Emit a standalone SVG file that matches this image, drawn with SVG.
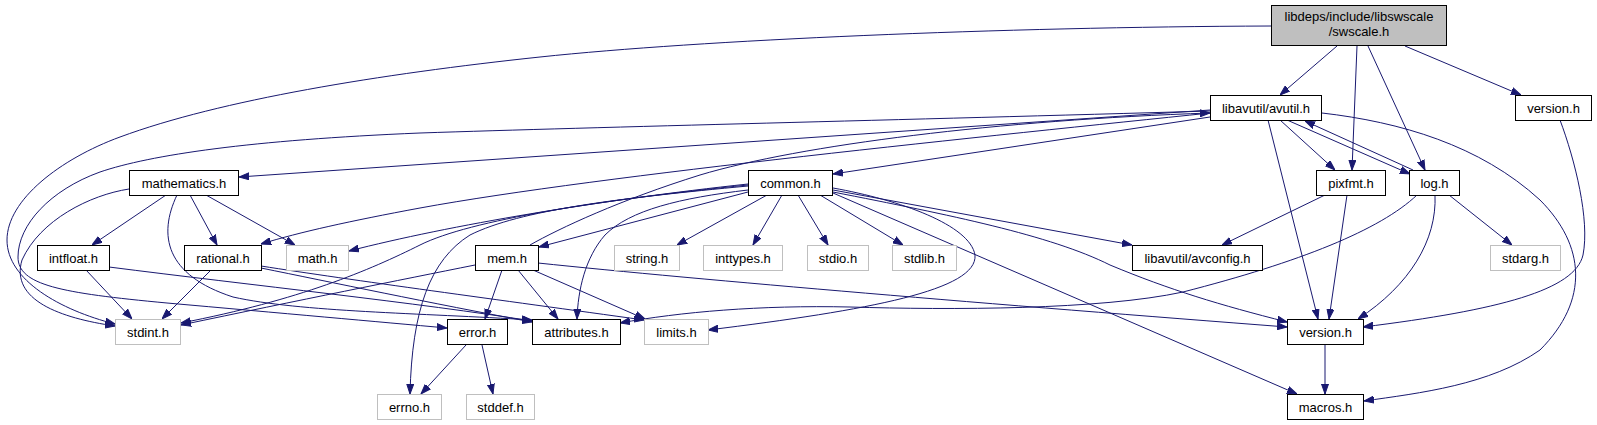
<svg xmlns="http://www.w3.org/2000/svg" width="1597" height="425" viewBox="0 0 1597 425">
<defs>
<marker id="arr" markerWidth="10" markerHeight="8" refX="10" refY="4" orient="auto" markerUnits="userSpaceOnUse">
<path d="M0,0.5 L10,4 L0,7.5 z" fill="#191970" stroke="#191970" stroke-width="1"/>
</marker>
</defs>
<style>
.n rect{fill:#ffffff;stroke:#000000;stroke-width:1}
.n.g rect{stroke:#bfbfbf}
.n.root rect{fill:#bfbfbf}
.n text{font-family:"Liberation Sans",Arial,sans-serif;font-size:13px;fill:#000000;text-anchor:middle}
#edges path{fill:none;stroke:#191970;stroke-width:1;marker-end:url(#arr)}
</style>
<rect width="1597" height="425" fill="#ffffff"/>
<g id="edges">
<path d="M1337,46 L1280,95"/>
<path d="M1357,46 L1352,170"/>
<path d="M1368,46 L1425,170"/>
<path d="M1405,46 L1521,95"/>
<path d="M1271,26 C1000,27 700,40 540,57 C380,74 220,100 120,137 C60,159 7,200 7,240 C7,280 60,310 115,324"/>
<path d="M1210,117 L833,174"/>
<path d="M1210,110 L239,177"/>
<path d="M1210,113 C1000,135 600,175 420,208 C350,221 300,232 261,244"/>
<path d="M1210,111 C900,120 600,127 420,133 C250,140 150,155 100,172 C50,190 18,225 18,257 C18,285 60,293 167,303 C280,313 380,322 447,328"/>
<path d="M1280,120 L1335,170"/>
<path d="M1287,120 L1410,174"/>
<path d="M1413,170 L1305,121"/>
<path d="M1268,120 L1318,319"/>
<path d="M1322,113 C1400,122 1480,145 1540,200 C1585,245 1590,300 1540,350 C1490,385 1420,393 1364,401"/>
<path d="M1449,195 L1512,245"/>
<path d="M1435,195 C1437,240 1410,285 1358,319"/>
<path d="M1417,195 C1380,230 1300,262 1183,292 C1100,310 950,310 850,307 C760,305 680,312 620,323"/>
<path d="M1325,195 L1222,245"/>
<path d="M1347,195 L1329,319"/>
<path d="M1560,120 C1575,160 1590,220 1583,255 C1575,290 1500,310 1363,327"/>
<path d="M1325,345 L1325,394"/>
<path d="M767,195 L677,245"/>
<path d="M782,195 L753,245"/>
<path d="M798,195 L828,245"/>
<path d="M820,195 L903,245"/>
<path d="M833,190 L1132,245"/>
<path d="M833,192 C950,215 1050,235 1110,265 C1170,290 1220,305 1287,322"/>
<path d="M833,193 L1297,394"/>
<path d="M833,188 C900,200 970,225 975,255 C978,290 870,310 708,330"/>
<path d="M748,186 C620,198 520,210 470,235 C430,260 412,310 410,394"/>
<path d="M748,184 C600,200 450,225 349,251"/>
<path d="M748,185 C600,200 470,220 420,245 C370,270 300,300 181,323"/>
<path d="M748,190 C680,198 630,210 605,235 C585,258 578,290 577,319"/>
<path d="M748,192 L539,247"/>
<path d="M530,245 C560,228 620,200 700,175 C800,145 1000,120 1210,113"/>
<path d="M475,265 C400,280 300,300 181,325"/>
<path d="M502,270 L485,319"/>
<path d="M518,270 L558,319"/>
<path d="M533,270 L645,319"/>
<path d="M538,263 C700,280 1000,305 1287,327"/>
<path d="M466,345 L421,394"/>
<path d="M482,345 L493,394"/>
<path d="M86,270 L132,319"/>
<path d="M109,267 C250,285 420,303 532,321"/>
<path d="M211,270 L162,319"/>
<path d="M261,268 C330,282 430,303 532,322"/>
<path d="M261,266 C350,280 500,300 644,320"/>
<path d="M166,195 L92,245"/>
<path d="M190,195 L217,245"/>
<path d="M206,195 L295,245"/>
<path d="M129,189 C90,195 40,220 22,260 C10,300 60,318 115,326"/>
<path d="M177,195 C158,235 165,275 233,297 C300,312 420,313 532,320"/>
</g>
<g id="node-swscale" class="n root"><rect x="1271.5" y="5.5" width="175" height="40"/><text x="1359" y="21">libdeps/include/libswscale</text><text x="1359" y="36">/swscale.h</text></g>
<g id="node-avutil" class="n"><rect x="1210.5" y="95.5" width="111" height="25"/><text x="1266" y="112.5">libavutil/avutil.h</text></g>
<g id="node-version-sws" class="n"><rect x="1515.5" y="95.5" width="76" height="25"/><text x="1553.5" y="112.5">version.h</text></g>
<g id="node-mathematics" class="n"><rect x="129.5" y="170.5" width="109" height="25"/><text x="184" y="187.5">mathematics.h</text></g>
<g id="node-common" class="n"><rect x="748.5" y="170.5" width="84" height="25"/><text x="790.5" y="187.5">common.h</text></g>
<g id="node-pixfmt" class="n"><rect x="1316.5" y="170.5" width="69" height="25"/><text x="1351" y="187.5">pixfmt.h</text></g>
<g id="node-log" class="n"><rect x="1409.5" y="170.5" width="50" height="25"/><text x="1434.5" y="187.5">log.h</text></g>
<g id="node-intfloat" class="n"><rect x="37.5" y="245.5" width="72" height="25"/><text x="73.5" y="262.5">intfloat.h</text></g>
<g id="node-rational" class="n"><rect x="184.5" y="245.5" width="77" height="25"/><text x="223" y="262.5">rational.h</text></g>
<g id="node-math" class="n g"><rect x="286.5" y="245.5" width="62" height="25"/><text x="317.5" y="262.5">math.h</text></g>
<g id="node-mem" class="n"><rect x="475.5" y="245.5" width="63" height="25"/><text x="507" y="262.5">mem.h</text></g>
<g id="node-string" class="n g"><rect x="614.5" y="245.5" width="65" height="25"/><text x="647" y="262.5">string.h</text></g>
<g id="node-inttypes" class="n g"><rect x="703.5" y="245.5" width="79" height="25"/><text x="743" y="262.5">inttypes.h</text></g>
<g id="node-stdio" class="n g"><rect x="807.5" y="245.5" width="61" height="25"/><text x="838" y="262.5">stdio.h</text></g>
<g id="node-stdlib" class="n g"><rect x="892.5" y="245.5" width="64" height="25"/><text x="924.5" y="262.5">stdlib.h</text></g>
<g id="node-avconfig" class="n"><rect x="1132.5" y="245.5" width="130" height="25"/><text x="1197.5" y="262.5">libavutil/avconfig.h</text></g>
<g id="node-stdarg" class="n g"><rect x="1490.5" y="245.5" width="70" height="25"/><text x="1525.5" y="262.5">stdarg.h</text></g>
<g id="node-stdint" class="n g"><rect x="115.5" y="319.5" width="65" height="25"/><text x="148" y="336.5">stdint.h</text></g>
<g id="node-error" class="n"><rect x="447.5" y="319.5" width="60" height="25"/><text x="477.5" y="336.5">error.h</text></g>
<g id="node-attributes" class="n"><rect x="532.5" y="319.5" width="88" height="25"/><text x="576.5" y="336.5">attributes.h</text></g>
<g id="node-limits" class="n g"><rect x="644.5" y="319.5" width="64" height="25"/><text x="676.5" y="336.5">limits.h</text></g>
<g id="node-version" class="n"><rect x="1287.5" y="319.5" width="76" height="25"/><text x="1325.5" y="336.5">version.h</text></g>
<g id="node-errno" class="n g"><rect x="377.5" y="394.5" width="64" height="25"/><text x="409.5" y="411.5">errno.h</text></g>
<g id="node-stddef" class="n g"><rect x="466.5" y="394.5" width="68" height="25"/><text x="500.5" y="411.5">stddef.h</text></g>
<g id="node-macros" class="n"><rect x="1287.5" y="394.5" width="76" height="25"/><text x="1325.5" y="411.5">macros.h</text></g>
</svg>
